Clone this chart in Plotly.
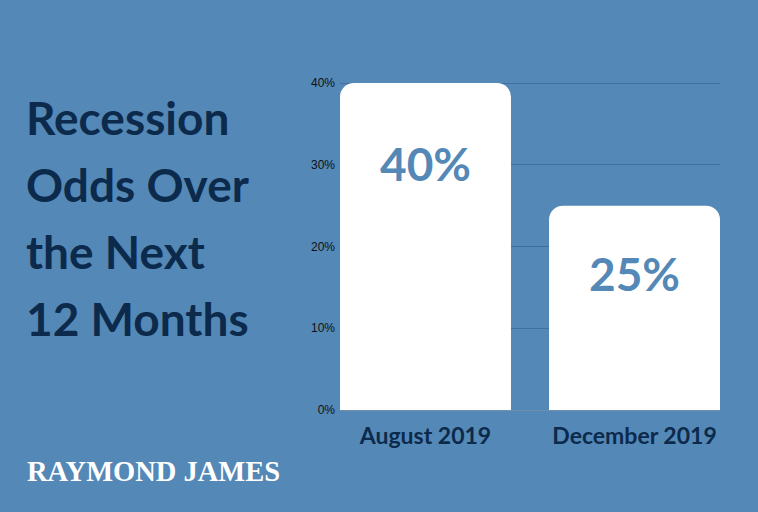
import plotly.graph_objects as go

# chart data
categories = ["August 2019", "December 2019"]
odds = [40, 25]
value_labels = ["40%", "25%"]
label_y = [30.2, 16.7]
tick_vals = [0, 10, 20, 30, 40]
tick_text = ["0%", "10%", "20%", "30%", "40%"]
title_lines = ["Recession", "Odds Over", "the Next", "12 Months"]

BG = "#5488b7"
NAVY = "#0c2a4b"

W, HT = 758, 512
L, R = 340, 38
T, B = 80, 102          # plot area spans y=80..410 px
Y_TOP = 40 * 330 / 327  # so that 40% lands at y=83 and its gridline shows
PH = HT - T - B

fig = go.Figure()
fig.add_trace(go.Bar(
    x=categories,
    y=odds,
    marker=dict(color="white", line=dict(width=0), cornerradius=14),
    hoverinfo="skip",
))

# big value labels inside bars
for cat, lab, ly in zip(categories, value_labels, label_y):
    fig.add_annotation(x=cat, y=ly, text=lab, showarrow=False,
                       font=dict(family="Lato", size=46, color=BG, weight="bold"))


def py_to_paper(py):
    return (T + PH - py) / PH


# title block on the left
for i, line in enumerate(title_lines):
    fig.add_annotation(xref="paper", yref="paper",
                       x=(24 - L) / (W - L - R), y=py_to_paper(118 + i * 66.7),
                       xanchor="left", yanchor="middle",
                       text=line, showarrow=False,
                       font=dict(family="Lato", size=46, color=NAVY, weight="bold"))

# logo
fig.add_annotation(xref="paper", yref="paper",
                   x=(25 - L) / (W - L - R), y=py_to_paper(471),
                   xanchor="left", yanchor="middle",
                   text="RAYMOND JAMES", showarrow=False,
                   font=dict(family="Liberation Serif", size=28.5, color="white", weight="bold"))

fig.update_layout(
    width=W, height=HT,
    margin=dict(l=L, r=R, t=T, b=B),
    paper_bgcolor=BG, plot_bgcolor=BG,
    bargap=0.182,
    showlegend=False,
    xaxis=dict(
        range=[-0.409, 1.409],
        showgrid=False, showline=False, zeroline=False,
        tickfont=dict(family="Lato", size=23, color=NAVY, weight="bold"),
        ticks="", ticklabelstandoff=10,
    ),
    yaxis=dict(
        range=[0, Y_TOP], tickvals=tick_vals, ticktext=tick_text,
        showgrid=True, gridcolor="#41709c", gridwidth=1,
        zeroline=True, zerolinecolor="#6f8fae", zerolinewidth=1,
        showline=False, ticks="", ticklabelstandoff=4,
        tickfont=dict(family="Liberation Sans", size=12, color="#111111"),
    ),
)

fig.write_html("out.html", config={"displayModeBar": False},
               post_script="document.body.style.margin='0px';")
